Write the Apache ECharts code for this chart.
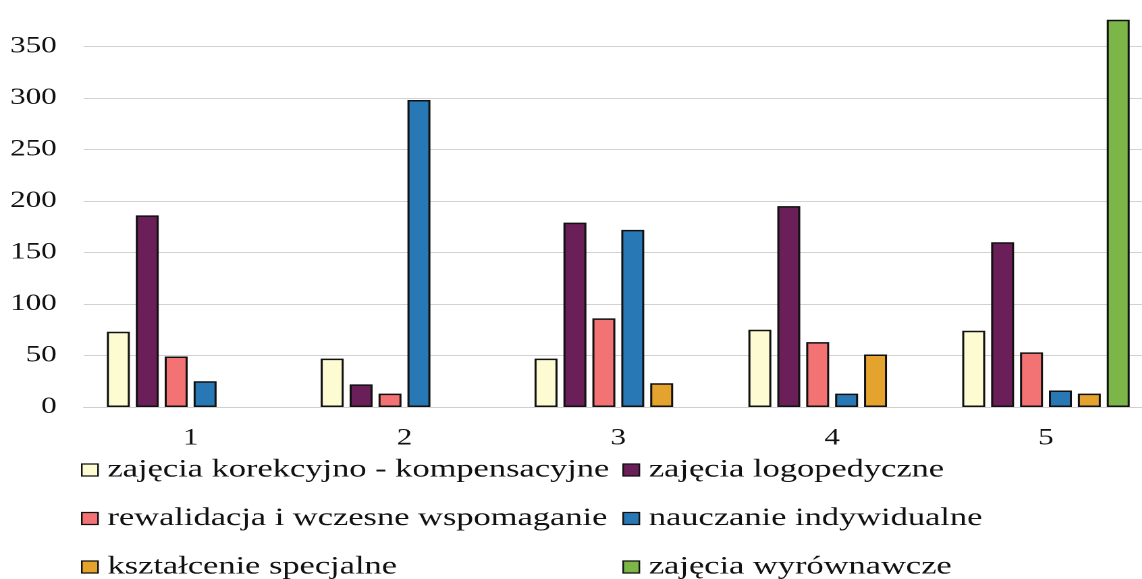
<!DOCTYPE html>
<html>
<head>
<meta charset="utf-8">
<script src="https://cdn.jsdelivr.net/npm/echarts@6/dist/echarts.min.js"></script>
<style>
  html, body { margin: 0; padding: 0; background: #fff; overflow: hidden; }
  /* the original picture is stretched sideways, so draw narrower and stretch it */
  #chart { width: 846px; height: 579px; transform: scaleX(1.35); transform-origin: 0 0; }
</style>
</head>
<body>
<div id="chart"></div>
<script>
// dane
var categories = ['1', '2', '3', '4', '5'];
var seriesNames = [
  'zajęcia korekcyjno - kompensacyjne',
  'zajęcia logopedyczne',
  'rewalidacja i wczesne wspomaganie',
  'nauczanie indywidualne',
  'kształcenie specjalne',
  'zajęcia wyrównawcze'
];
var korekcyjno = [73, 47, 47, 75, 74];
var logopedyczne = [186, 22, 179, 195, 160];
var rewalidacja = [49, 13, 86, 63, 53];
var nauczanie = [25, 298, 172, 13, 16];
var ksztalcenie = [null, null, 23, 51, 13];
var wyrownawcze = [null, null, null, null, 376];
var yTicks = [0, 50, 100, 150, 200, 250, 300, 350];

var values = [korekcyjno, logopedyczne, rewalidacja, nauczanie, ksztalcenie, wyrownawcze];
var colors = ['#fdfbd2', '#6a1f58', '#f37274', '#2878b6', '#e3a32c', '#7cb649'];

var font = "'Liberation Serif', 'Times New Roman', serif";

var series = [];
for (var i = 0; i < values.length; i++) {
  series.push({
    name: seriesNames[i],
    type: 'bar',
    data: values[i],
    barWidth: 17,
    barGap: '26%',
    itemStyle: {
      color: colors[i],
      borderColor: '#111',
      borderWidth: 1.5
    }
  });
}

function legendBlock(idx, left) {
  return {
    data: idx.map(function (k) { return seriesNames[k]; }),
    orient: 'vertical',
    left: left,
    top: 457,
    height: 150,
    padding: 0,
    icon: 'rect',
    itemWidth: 12,
    itemHeight: 12,
    itemGap: 22.5,
    selectedMode: false,
    itemStyle: { borderColor: '#111', borderWidth: 1.2 },
    textStyle: { fontFamily: font, fontSize: 25.5, lineHeight: 26, color: '#111', padding: [0, 0, 0, 2] }
  };
}

var option = {
  animation: false,
  backgroundColor: '#fff',
  grid: { left: 62, right: -8, top: -5, bottom: 172, outerBoundsMode: 'none' },
  legend: [legendBlock([0, 2, 4], 60), legendBlock([1, 3, 5], 461)],
  xAxis: {
    type: 'category',
    data: categories,
    axisLine: { show: true, lineStyle: { color: '#cfcfcf', width: 1 } },
    axisTick: { show: false },
    axisLabel: { fontFamily: font, fontSize: 23, color: '#111', margin: 20 }
  },
  yAxis: {
    type: 'value',
    min: yTicks[0],
    max: 400,
    interval: 50,
    axisLine: { show: false },
    axisTick: { show: false },
    axisLabel: { fontFamily: font, fontSize: 23, color: '#111', margin: 20, showMaxLabel: false },
    splitLine: { lineStyle: { color: '#d2d2d2', width: 1 } }
  },
  series: series
};

var chart = echarts.init(document.getElementById('chart'), null, { renderer: 'canvas', devicePixelRatio: 2 });
chart.setOption(option);
</script>
</body>
</html>
